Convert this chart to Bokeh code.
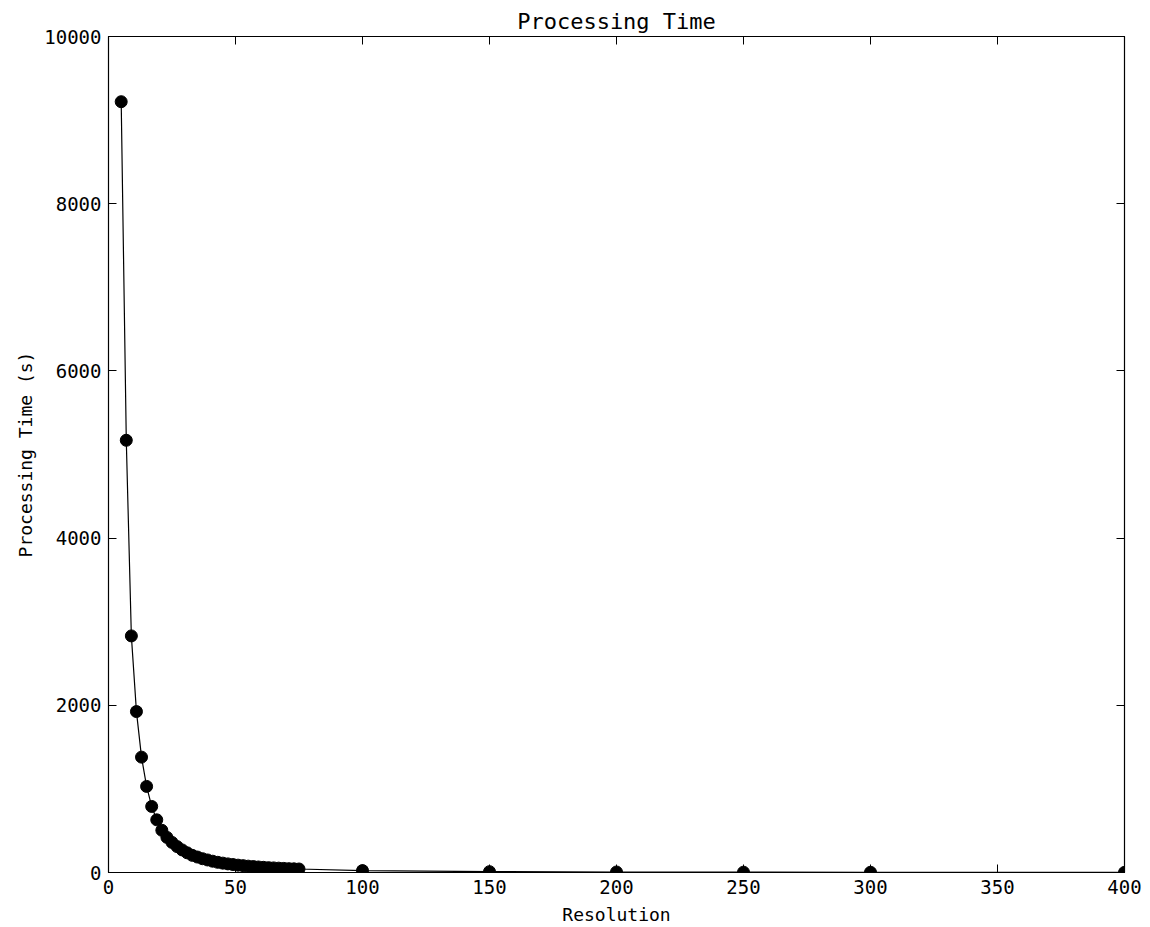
from bokeh.plotting import figure
from bokeh.models import LinearAxis, Range1d, SingleIntervalTicker
from bokeh.embed import file_html
from bokeh.resources import INLINE

resolution = [5, 7, 9, 11, 13, 15, 17, 19, 21, 23, 25, 27, 29, 31, 33, 35, 37, 39,
              41, 43, 45, 47, 49, 51, 53, 55, 57, 59, 61, 63, 65, 67, 69, 71, 73, 75,
              100, 150, 200, 250, 300, 400]
proc_time = [9220, 5170, 2830, 1925, 1380, 1030, 790, 630, 505, 420, 360, 310, 270,
             235, 205, 185, 165, 150, 135, 122, 112, 103, 95, 88, 82, 76, 71, 66, 62,
             58, 55, 52, 49, 46, 44, 42, 23, 10, 6, 4, 3, 1.5]

FONT = "DejaVu Sans Mono"

p = figure(width=1150, height=927, output_backend="svg", toolbar_location=None,
           x_range=Range1d(0, 400), y_range=Range1d(0, 10000),
           title="Processing Time", x_axis_label="Resolution",
           y_axis_label="Processing Time (s)",
           min_border_left=108, min_border_right=26, min_border_top=36,
           min_border_bottom=55)
p.background_fill_color = "white"
p.border_fill_color = "white"
p.outline_line_color = "black"
p.outline_line_width = 1.2
p.grid.visible = False

p.title.text_font = FONT
p.title.text_font_size = "22px"
p.title.text_font_style = "normal"
p.title.text_color = "black"
p.title.align = "center"
p.title.offset = 0
p.title.standoff = 5

for ax in (p.xaxis[0], p.yaxis[0]):
    ax.axis_label_text_font = FONT
    ax.axis_label_text_font_size = "18px"
    ax.axis_label_text_font_style = "normal"
    ax.axis_label_text_color = "black"
    ax.major_label_text_font = FONT
    ax.major_label_text_font_size = "19px"
    ax.major_label_text_color = "black"
    ax.major_tick_in = 8
    ax.major_tick_out = 0
    ax.minor_tick_in = 0
    ax.minor_tick_out = 0
    ax.axis_line_color = "black"
    ax.major_label_standoff = 7
p.xaxis[0].ticker = SingleIntervalTicker(interval=50)
p.yaxis[0].ticker = SingleIntervalTicker(interval=2000)
p.xaxis[0].axis_label_standoff = 7
p.yaxis[0].axis_label_standoff = 5

top = LinearAxis(ticker=SingleIntervalTicker(interval=50))
right = LinearAxis(ticker=SingleIntervalTicker(interval=2000))
for ax in (top, right):
    ax.major_tick_in = 8
    ax.major_tick_out = 0
    ax.minor_tick_in = 0
    ax.minor_tick_out = 0
    ax.major_label_text_color = None
    ax.major_label_text_font_size = "1px"
    ax.major_label_standoff = 0
    ax.axis_line_color = "black"
p.add_layout(top, "above")
p.add_layout(right, "right")

p.line(resolution, proc_time, line_color="black", line_width=1.2)
p.scatter(resolution, proc_time, marker="circle", size=12, fill_color="black",
          line_color="black")

open("out.html", "w").write(file_html(p, INLINE))
